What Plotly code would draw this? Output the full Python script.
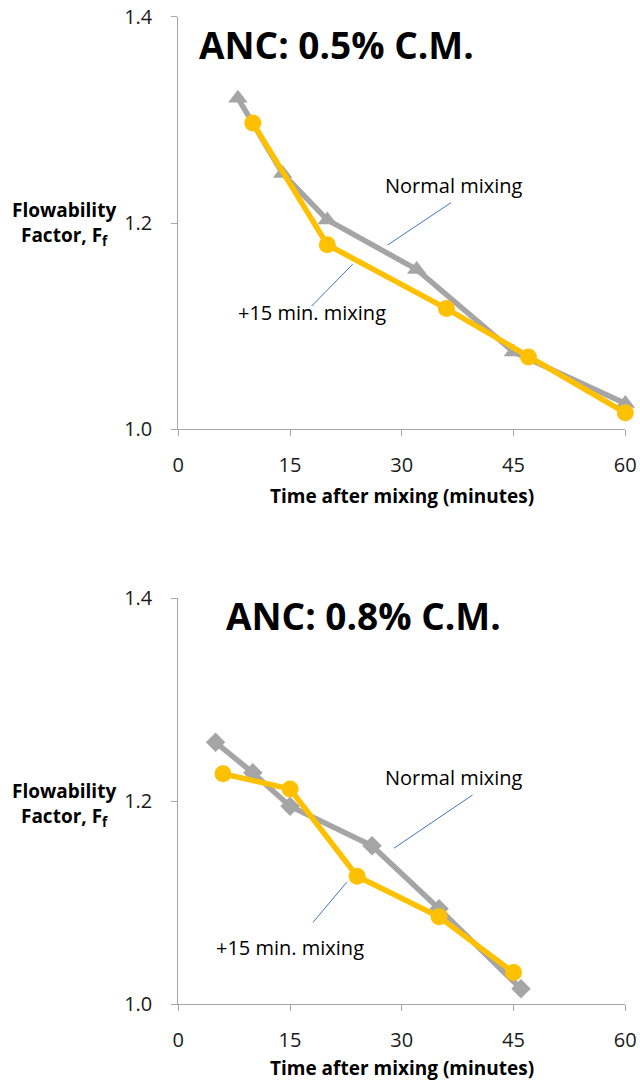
import plotly.graph_objects as go

# ---- data ----
time_normal_05 = [8, 14, 20, 32, 45, 60]
ff_normal_05 = [1.321, 1.248, 1.203, 1.155, 1.075, 1.025]
time_plus15_05 = [10, 20, 36, 47, 60]
ff_plus15_05 = [1.297, 1.179, 1.117, 1.070, 1.016]

time_normal_08 = [5, 10, 15, 26, 35, 46]
ff_normal_08 = [1.258, 1.228, 1.195, 1.156, 1.094, 1.015]
time_plus15_08 = [6, 15, 24, 35, 45]
ff_plus15_08 = [1.227, 1.212, 1.126, 1.086, 1.031]

x_ticks = [0, 15, 30, 45, 60]
y_ticks = [1.0, 1.2, 1.4]
titles = ["ANC: 0.5% C.M.", "ANC: 0.8% C.M."]
label_normal = "Normal mixing"
label_plus15 = "+15 min. mixing"
x_title = "Time after mixing (minutes)"

GRAY = "#a5a5a5"
YELLOW = "#ffc000"
BLUE = "#4472c4"
AXIS = "#a6a6a6"
FONT = "Open Sans"
TXT = "#1a1a1a"

fig = go.Figure()

panels = [
    (time_normal_05, ff_normal_05, time_plus15_05, ff_plus15_05, "triangle-up", "x", "y"),
    (time_normal_08, ff_normal_08, time_plus15_08, ff_plus15_08, "diamond", "x2", "y2"),
]
for tn, fn, tp, fp, sym, xa, ya in panels:
    fig.add_trace(go.Scatter(x=tn, y=fn, mode="lines+markers", xaxis=xa, yaxis=ya,
                             line=dict(color=GRAY, width=5.5),
                             marker=dict(symbol=sym, size=17 if sym == "triangle-up" else 15, color=GRAY),
                             showlegend=False, cliponaxis=False))
    fig.add_trace(go.Scatter(x=tp, y=fp, mode="lines+markers", xaxis=xa, yaxis=ya,
                             line=dict(color=YELLOW, width=5.5),
                             marker=dict(symbol="circle", size=17, color=YELLOW),
                             showlegend=False, cliponaxis=False))

axis_common = dict(range=[0, 60], tickvals=x_ticks, showgrid=False, zeroline=False,
                   showline=True, linecolor=AXIS, linewidth=1, ticks="outside",
                   ticklen=6, tickcolor=AXIS, automargin=False, ticklabelstandoff=12,
                   tickfont=dict(family=FONT, size=20, color=TXT))
yaxis_common = dict(range=[1.0, 1.4], tickvals=y_ticks, tickformat=".1f", showgrid=False,
                    zeroline=False, showline=True, linecolor=AXIS, linewidth=1,
                    ticks="outside", ticklen=6, tickcolor=AXIS, automargin=False,
                    ticklabelstandoff=15,
                    tickfont=dict(family=FONT, size=20, color=TXT))

xd = [178.3 / 640, 625.3 / 640]
fig.update_layout(
    width=640, height=1085, margin=dict(l=0, r=0, t=0, b=0),
    plot_bgcolor="white", paper_bgcolor="white",
    xaxis=dict(domain=xd, anchor="y", **axis_common),
    yaxis=dict(domain=[1 - 429.3 / 1085, 1 - 16.7 / 1085], anchor="x", **yaxis_common),
    xaxis2=dict(domain=xd, anchor="y2", **axis_common),
    yaxis2=dict(domain=[1 - 1004 / 1085, 1 - 598.3 / 1085], anchor="x2", **yaxis_common),
)

# titles inside panels
fig.add_annotation(text="<b>" + titles[0] + "</b>", x=2.5, y=1.373, xref="x", yref="y",
                   xanchor="left", yanchor="middle", showarrow=False,
                   font=dict(family=FONT, size=37, color="#000"))
fig.add_annotation(text="<b>" + titles[1] + "</b>", x=6.1, y=1.3826, xref="x2", yref="y2",
                   xanchor="left", yanchor="middle", showarrow=False,
                   font=dict(family=FONT, size=37, color="#000"))

# x axis titles
for yc in [496, 1068]:
    fig.add_annotation(text="<b>" + x_title + "</b>", x=401.8 / 640, y=1 - yc / 1085,
                       xref="paper", yref="paper", xanchor="center", yanchor="middle",
                       showarrow=False, font=dict(family=FONT, size=19, color="#000"))

# y axis titles
for yc in [224, 804]:
    fig.add_annotation(text="<b>Flowability<br>Factor, F<sub>f</sub></b>", x=64 / 640, y=1 - yc / 1085,
                       xref="paper", yref="paper", xanchor="center", yanchor="middle",
                       showarrow=False, align="center",
                       font=dict(family=FONT, size=19, color="#000"))

# series labels and leader lines
labels = [
    ("x", "y", 37.0, 1.2368, 17.9, 1.113, (36.6, 1.2197, 28.1, 1.1787), (23.4, 1.160, 17.9, 1.1195)),
    ("x2", "y2", 37.0, 1.2234, 15.0, 1.0562, (39.5, 1.2061, 28.95, 1.1536), (22.6, 1.120, 18.1, 1.0806)),
]
for xr, yr, nx, ny, px, py, ln, lp in labels:
    fig.add_annotation(text=label_normal, x=nx, y=ny, xref=xr, yref=yr, showarrow=False,
                       font=dict(family=FONT, size=20, color="#000"))
    fig.add_annotation(text=label_plus15, x=px, y=py, xref=xr, yref=yr, showarrow=False,
                       font=dict(family=FONT, size=20, color="#000"))
    for x0, y0, x1, y1 in (ln, lp):
        fig.add_shape(type="line", x0=x0, y0=y0, x1=x1, y1=y1, xref=xr, yref=yr,
                      line=dict(color=BLUE, width=1))

fig.write_html("out.html")
